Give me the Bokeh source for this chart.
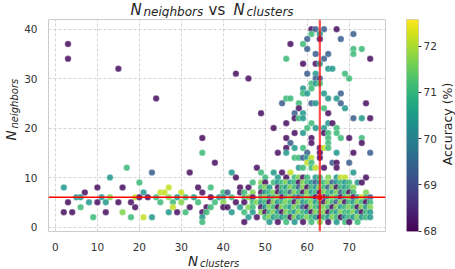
import numpy as np
from bokeh.plotting import figure
from bokeh.models import ColumnDataSource, LinearColorMapper, Span, Label, FixedTicker, Range1d
from bokeh.layouts import row, column
from bokeh.palettes import Viridis256
from bokeh.embed import file_html
from bokeh.resources import INLINE

# ---------------- data ----------------
# accuracy level codes seen in the colours of the points
level_acc = {"P": 68.15, "B": 69.3, "T": 70.4, "G": 71.1, "L": 71.7, "Y": 72.15}

# isolated points: n_neighbors -> "n_clusters+code ..."
sparse_rows = {
    40: "61P 62B 64B 67P",
    39: "61G 63T 71B",
    38: "60B 63P 68B",
    37: "3P 56P 59G",
    36: "60B 71G 73G",
    35: "62B 65B 71G",
    34: "3P 55G 64B 75P",
    33: "59P 62P 63T",
    32: "15P 65T 66T",
    31: "43P 60B 62T 69G",
    30: "46P 62B 63B 70G",
    29: "61G 62T 63G",
    28: "59T 61G",
    27: "59G 60T 64T 68B",
    26: "24P 55G 56G 65T 67T",
    25: "54B 58G 61B 62T 68B 74P",
    24: "58P 64G 69T",
    23: "49P 57B 59T 65P",
    22: "57P 58G 59T 71B 73T 75P",
    21: "55P 61G 65T 66P",
    20: "52P 60G 62T 64T 67G",
    19: "57P 59T 64P 65G 67G",
    18: "35P 55P 61P 65G 68G 70P 73G",
    17: "56B 61P 65G 73P",
    16: "55P 57T 59G 63P 64Y 65G",
    15: "35G 53P 55T 60B 63P 67T 71P 75B",
    14: "57G 58G 59B 60T 61Y 63P",
    13: "38P 60Y 61G 66B 67P 70B",
    12: "17G 48P 58T 59G 61G 62Y 64P 67P",
    11: "23B 32P 42T 49G 52T 54P 56Y 71T",
    10: "13T 43P",
    9: "20G",
    8: "2T 10P 16P 27Y 34P 37G 44P",
    7: "7P 21T 25Y 26Y 30Y 35P 40G 41B 44P",
    6: "5T 6T 11T 13L 19Y 20P 22P 24G 27L 29T 31G 33T 37P 39T 40T 42G",
    5: "3P 8T 10P 12T 15P 18P 25G 28G 30L 34G 38G 40L 43P",
    4: "6G 19P 28Y 32P 36P 37G 40P 41P 44T",
    3: "2P 4P 12P 16L 27T 29P 31G 35P 36G 42T",
    2: "9G 18G 21Y 23T 35T",
    1: "35G",
}

# dense block: n_clusters 45..75, one character per cluster count ('.' = none)
dense_first_cluster = 45
dense_rows = {
    10: "..... G..T. P.GLP G.TG. L.TYY ....P .",
    9:  "..G.L P.GTG LTGPL GTBTG LBTGT G.TP. .",
    8:  ".P..G LT.PG TLGBL PGTLG BLPGT GL... .",
    7:  "G.L.P TGLPT GBLGP LTGPL GTLBG PG..L .",
    6:  "GLP.G LTGLP GLTBG LGP.P TLGPG LPTYG B",
    5:  "P.GLT GPLTG LGPLT GLTGP LGBLP GTLGP G",
    4:  ".LG.P TLGPL GTLGB PLGTL GPLTG LGPLT L",
    3:  "G.T.L PGLTP LGTLG TPLGL PGTLG GLTPG T",
    2:  ".T.P. GLTGT GPLTG LGTPG TLGPT GTLTG T",
    1:  "P.... .T.P. G.T.P .G.L. P.T.G P.G.. .",
}

best_clusters = 63
best_neighbors = 6

acc_low, acc_high = 67.99, 72.58
x_ticks = [0, 10, 20, 30, 40, 50, 60, 70]
y_ticks = [0, 10, 20, 30, 40]
cbar_ticks = [68, 69, 70, 71, 72]

# ---------------- build columns ----------------
n_clusters, n_neighbors, accuracy = [], [], []
for nb, s in sparse_rows.items():
    for tok in s.split():
        n_clusters.append(int(tok[:-1]))
        n_neighbors.append(nb)
        accuracy.append(level_acc[tok[-1]])
for nb, s in dense_rows.items():
    for i, ch in enumerate(s.replace(" ", "")):
        if ch != ".":
            n_clusters.append(dense_first_cluster + i)
            n_neighbors.append(nb)
            accuracy.append(level_acc[ch])

src = ColumnDataSource(dict(x=n_clusters, y=n_neighbors, acc=accuracy))
mapper = LinearColorMapper(palette=Viridis256, low=acc_low, high=acc_high)

FONT = "DejaVu Sans"
TXT = "#262626"
TOTAL_W = 455
TITLE_H = 18
FRAME_H = 216
TOP_B, BOT_B = 1, 18
MID_H = TOP_B + FRAME_H + BOT_B          # 235
XLAB_H = 269 - TITLE_H - MID_H           # 16
YLAB_W = 21
MAIN_LEFT, FRAME_W, MAIN_RIGHT = 19, 345, 3
MAIN_W = MAIN_LEFT + FRAME_W + MAIN_RIGHT  # 367
CB_LEFT, CB_FRAME, CB_RIGHT = 18, 14, 19
CB_W = CB_LEFT + CB_FRAME + CB_RIGHT     # 51
CBLAB_W = TOTAL_W - YLAB_W - MAIN_W - CB_W  # 16
MID = 0.345  # line-box centre above the baseline, in em


def text_fig(w, h):
    f = figure(width=w, height=h, x_range=Range1d(0, w), y_range=Range1d(0, h),
               output_backend="svg", toolbar_location=None, title=None,
               x_axis_location=None, y_axis_location=None,
               min_border=0, min_border_left=0, min_border_right=0,
               min_border_top=0, min_border_bottom=0)
    f.outline_line_color = None
    f.grid.visible = False
    f.background_fill_color = "white"
    f.border_fill_color = "white"
    return f


def lbl(fig, text, x, base, size, style="italic", rotated=False, align="left"):
    """base = baseline position (y from bottom, or x for rotated text)."""
    if rotated:
        kx, ky, ang = base - MID * size, x, np.pi / 2
    else:
        kx, ky, ang = x, base + MID * size, 0.0
    fig.add_layout(Label(x=kx, y=ky, x_units="screen", y_units="screen", text=text,
                         text_font=FONT, text_font_size=f"{size}px", text_font_style=style,
                         text_color=TXT, text_align=align, text_baseline="middle",
                         angle=ang))


# ---------------- main scatter ----------------
p = figure(width=MAIN_W, height=MID_H,
           x_range=Range1d(-1.65, 78.65), y_range=Range1d(-0.9, 41.95),
           output_backend="svg", toolbar_location=None, title=None,
           min_border_left=MAIN_LEFT, min_border_right=MAIN_RIGHT,
           min_border_top=TOP_B, min_border_bottom=BOT_B)
p.background_fill_color = "white"
p.border_fill_color = "white"
p.outline_line_color = "#cccccc"
p.outline_line_width = 1

p.xaxis.ticker = FixedTicker(ticks=x_ticks)
p.yaxis.ticker = FixedTicker(ticks=y_ticks)
for ax in (p.xaxis[0], p.yaxis[0]):
    ax.axis_line_color = None
    ax.major_tick_line_color = None
    ax.minor_tick_line_color = None
    ax.major_label_text_font = FONT
    ax.major_label_text_font_size = "10.5px"
    ax.major_label_text_color = "#333333"
p.xaxis.major_label_standoff = 5
p.yaxis.major_label_standoff = 5

p.grid.grid_line_color = "#d4d4d4"
p.grid.grid_line_dash = "3 2"
p.grid.grid_line_width = 1

p.scatter("x", "y", source=src, size=6.5,
          fill_color={"field": "acc", "transform": mapper}, fill_alpha=0.85,
          line_color="white", line_width=0.4, line_alpha=0.8)
p.scatter([best_clusters], [best_neighbors], size=6.5, fill_color="#d01010",
          line_color="white", line_width=0.4)

p.add_layout(Span(location=best_clusters, dimension="height", line_color="red",
                  line_alpha=0.7, line_width=2.2))
p.add_layout(Span(location=best_neighbors, dimension="width", line_color="red",
                  line_width=1.5))

# ---------------- title  N_neighbors vs N_clusters ----------------
t = text_fig(TOTAL_W, TITLE_H)
lbl(t, "N", 130, TITLE_H - 14.5, 15)
lbl(t, "neighbors", 143, TITLE_H - 15.2, 12)
lbl(t, "vs", 208, TITLE_H - 14.5, 15, style="normal")
lbl(t, "N", 233, TITLE_H - 14.5, 15)
lbl(t, "clusters", 246, TITLE_H - 15.2, 12)

# ---------------- x label  N_clusters ----------------
xl = text_fig(TOTAL_W, XLAB_H)
lbl(xl, "N", 187.5, 3.5, 13.5)
lbl(xl, "clusters", 199.5, 2.4, 10)

# ---------------- y label  N_neighbors (rotated) ----------------
yl = text_fig(YLAB_W, MID_H)
lbl(yl, "N", 91, 15, 13.5, rotated=True)
lbl(yl, "neighbors", 103, 17, 10, rotated=True)

# ---------------- colour bar ----------------
cb = figure(width=CB_W, height=MID_H,
            x_range=Range1d(0, 1), y_range=Range1d(acc_low, acc_high),
            output_backend="svg", toolbar_location=None, title=None,
            x_axis_location=None, y_axis_location="right",
            min_border_left=CB_LEFT, min_border_right=CB_RIGHT,
            min_border_top=TOP_B, min_border_bottom=BOT_B)
cb.background_fill_color = "white"
cb.border_fill_color = "white"
cb.outline_line_color = "#cccccc"
cb.grid.visible = False
grad = np.linspace(acc_low, acc_high, 256).reshape(-1, 1)
cb.image(image=[grad], x=0, y=acc_low, dw=1, dh=acc_high - acc_low, color_mapper=mapper)
ya = cb.yaxis[0]
ya.ticker = FixedTicker(ticks=cbar_ticks)
ya.axis_line_color = None
ya.major_tick_in = 0
ya.major_tick_out = 3
ya.major_tick_line_color = "#333333"
ya.minor_tick_line_color = None
ya.major_label_standoff = 2
ya.major_label_text_font = FONT
ya.major_label_text_font_size = "10.5px"
ya.major_label_text_color = "#333333"

cl = text_fig(CBLAB_W, MID_H)
lbl(cl, "Accuracy (%)", MID_H - 127.5, 12, 12.5, style="normal", rotated=True, align="center")

layout = column(t, row(yl, p, cb, cl), xl)
open("out.html", "w").write(file_html(layout, INLINE))
